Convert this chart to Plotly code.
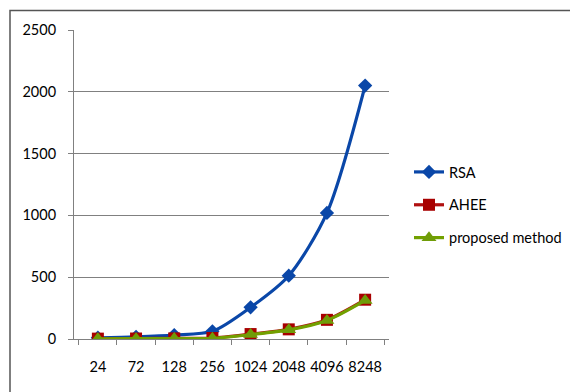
import plotly.graph_objects as go

# Key sizes (bits) and timing for each scheme
key_sizes = ["24", "72", "128", "256", "1024", "2048", "4096", "8248"]
rsa = [10, 18, 32, 62, 256, 512, 1020, 2050]
ahee = [3, 4, 5, 8, 40, 78, 155, 318]
proposed = [2, 3, 4, 6, 36, 74, 150, 312]

FONT = "Lato, Liberation Sans Narrow, Arial"
W, H = 570, 392

fig = go.Figure()
fig.add_trace(go.Scatter(
    x=key_sizes, y=rsa, name="RSA", mode="lines+markers",
    line=dict(color="#0a47a8", width=3.2, shape="spline", smoothing=0.8),
    marker=dict(symbol="diamond", size=11, color="#0a47a8"),
    legendgroup="a",
))
fig.add_trace(go.Scatter(
    x=key_sizes, y=ahee, name="AHEE", mode="lines+markers",
    line=dict(color="#b01010", width=3.2, shape="spline", smoothing=0.8),
    marker=dict(symbol="square", size=12, color="#a80000"),
    legendgroup="b",
))
fig.add_trace(go.Scatter(
    x=key_sizes, y=proposed, name="proposed method", mode="lines+markers",
    line=dict(color="#72a000", width=3.2, shape="spline", smoothing=0.8),
    marker=dict(symbol="triangle-up", size=13, color="#6f9c08"),
    legendgroup="c",
))

# chart frame
fig.add_shape(type="rect", xref="paper", yref="paper",
              x0=10 / W, x1=1.2, y0=-0.2, y1=1 - 10.5 / H,
              line=dict(color="#555555", width=1.5), layer="below")

fig.update_layout(
    width=W, height=H,
    margin=dict(l=0, r=0, t=0, b=0, autoexpand=False),
    paper_bgcolor="white", plot_bgcolor="white",
    font=dict(family=FONT, size=14.5, color="#000000"),
    showlegend=True,
    legend=dict(x=409 / W, y=1 - 156 / H, xanchor="left", yanchor="top",
                bgcolor="rgba(0,0,0,0)", tracegroupgap=11,
                font=dict(family=FONT, size=14.5)),
    xaxis=dict(
        domain=[74 / W, 389 / W], automargin=False,
        type="category", showgrid=False, tickangle=0,
        showline=True, linecolor="#808080", linewidth=1,
        ticks="outside", tickson="boundaries", ticklen=5, tickcolor="#808080",
        ticklabelstandoff=15,
        tickfont=dict(family=FONT, size=14.5), zeroline=False,
    ),
    yaxis=dict(
        domain=[1 - 339 / H, 1 - 30 / H], automargin=False,
        range=[0, 2500], tickvals=[0, 500, 1000, 1500, 2000, 2500],
        showgrid=True, gridcolor="#808080", gridwidth=1,
        showline=True, linecolor="#808080", linewidth=1,
        ticks="outside", ticklen=5, tickcolor="#808080",
        ticklabelstandoff=9,
        tickfont=dict(family=FONT, size=14.5), zeroline=False,
    ),
)

fig.write_html("out.html")
